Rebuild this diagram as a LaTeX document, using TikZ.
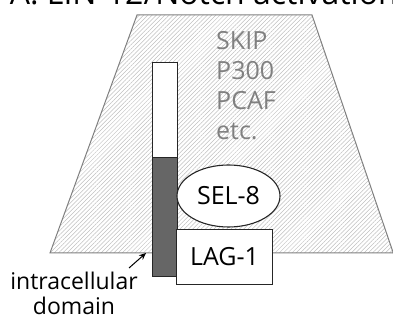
\documentclass[tikz,border=0pt]{standalone}
\usepackage{fontspec}
\setmainfont{Open Sans}
\usetikzlibrary{patterns.meta,shapes.geometric,arrows.meta}
\begin{document}
\begin{tikzpicture}[x=1pt,y=1pt,
  lbl/.style={font=\fontsize{25}{30}\selectfont, inner sep=0pt},
  graytext/.style={lbl, text=black!50, align=left},
  outline/.style={draw=black!85, line width=1.1pt}]
\useasboundingbox (0,0) rectangle (393,320);
\begin{scope}
\clip (0,0) rectangle (393,320);
% title (top is cut off in the reference)
\node[anchor=base east, font=\fontsize{32}{34}\selectfont, inner sep=0pt] (title) at (398,315) {A: LIN-12/Notch activation};
% hatched trapezoid
\path[pattern={Lines[angle=45,distance=3pt,line width=0.5pt]}, pattern color=black!25]
  (137,305) -- (312,305) -- (393,67) -- (50,67) -- cycle;
\draw[black!50, line width=1pt] (393,67) -- (50,67) -- (137,305) -- (312,305) -- (395,62);
\end{scope}
\node[graytext, anchor=north west] (co) at (216,289) {SKIP\\P300\\PCAF\\etc.};
% receptor bar
\node[outline, fill=white, minimum width=25pt, minimum height=95pt, inner sep=0pt, anchor=north west] (ext) at (152,258) {};
\node[outline, fill=black!60, minimum width=25pt, minimum height=119pt, inner sep=0pt, anchor=north west] (icd) at (152,163) {};
% SEL-8
\node[ellipse, outline, fill=white, minimum width=103pt, minimum height=62pt, inner sep=0pt, lbl, text=black] (sel) at (228.5,124) {SEL-8};
% LAG-1
\node[outline, fill=white, minimum width=96pt, minimum height=55pt, inner sep=0pt, lbl, text=black, anchor=north west] (lag) at (176,91) {LAG-1};
% label
\node[font=\fontsize{23}{25}\selectfont, align=center, inner sep=0pt] (lab) at (74,27) {intracellular\\domain};
\coordinate (tail) at (129,52);
\coordinate (tip) at (146,67);
\draw[-{Stealth[length=7pt,width=6pt]}, line width=1pt] (tail) -- (tip);
\end{tikzpicture}
\end{document}
